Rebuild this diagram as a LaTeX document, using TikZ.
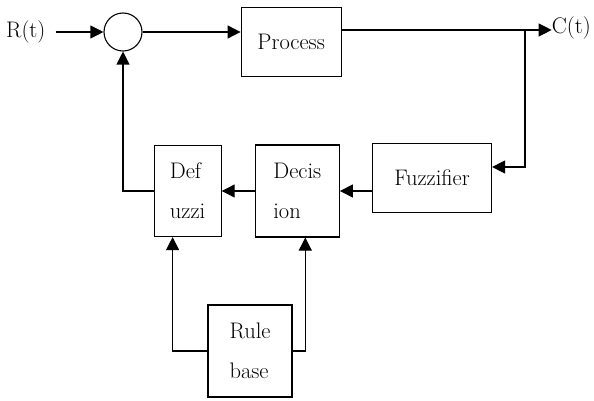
\documentclass[tikz,border=0pt]{standalone}
\usepackage{tikz}
\usetikzlibrary{positioning,arrows.meta}

\begin{document}
\begin{tikzpicture}[
  x=1pt, y=-1pt,
  box/.style={draw, line width=1.2pt, font=\fontsize{22.5}{40}\selectfont,
              align=left, inner sep=0pt},
  lbl/.style={font=\fontsize{22.5}{26}\selectfont, inner sep=0pt},
  arr/.style={-{Triangle[length=13pt,width=13pt]}, line width=1.1pt},
]
  \useasboundingbox (0,0) rectangle (594,401);

  \node[lbl, anchor=west] (rin) at (6,32) {R(t)};
  \node[draw, circle, line width=1.1pt, minimum size=38pt] (sum) at (123,32) {};
  \node[box, minimum width=100pt, minimum height=69pt, right=98pt of sum, yshift=-10pt] (proc) {Process};
  \node[lbl, anchor=east] (cout) at (591,28) {C(t)};
  \node[box, minimum width=119pt, minimum height=69pt] (fuzz) at (432,178) {Fuzzifier};
  \node[box, minimum width=84pt, minimum height=92pt, left=32pt of fuzz, yshift=-13pt] (dec) {Decis\\ion};
  \node[box, minimum width=67pt, minimum height=91pt, left=33pt of dec] (defz) {Def\\uzzi};
  \node[box, minimum width=84pt, minimum height=92pt] (rule) at (250,351) {Rule\\base};
  \coordinate (tap) at (525,30);

  \draw[arr, shorten <=10pt] (rin) -- (sum);
  \draw[arr] (sum) -- (sum -| proc.west);
  \draw[arr] (proc.east |- tap) -- (tap -| cout.west);
  \draw[arr] (tap) |- ([yshift=11pt]fuzz.east);
  \draw[arr] (fuzz.west |- dec) -- (dec);
  \draw[arr] (dec) -- (defz);
  \draw[arr] (defz) -| (sum);
  \draw[arr] (rule) -| ([xshift=-15pt]defz.south);
  \draw[arr] (rule) -| ([xshift=8pt]dec.south);
\end{tikzpicture}
\end{document}
